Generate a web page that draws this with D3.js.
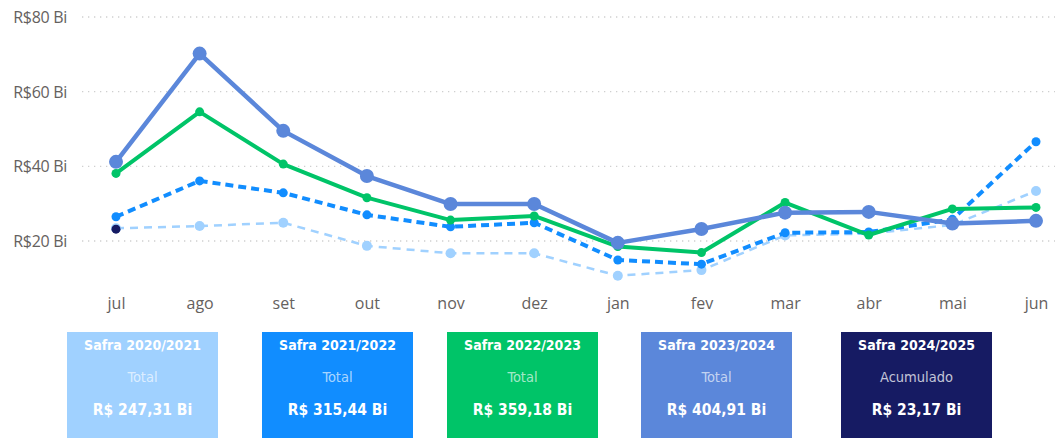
<!DOCTYPE html>
<html>

<head>
  <meta charset="utf-8">
  <title>Safras</title>
  <style>
    body,
    html {
      margin: 0;
      padding: 0;
      background: #fff;
    }

    #svg {
      display: block;
    }
  </style>
</head>

<body>

  <svg id="svg" width="1055" height="438"></svg>

  <script src="https://d3js.org/d3.v7.min.js"></script>
  <script>
    // meses da safra (jul -> jun)
    const months = ["jul", "ago", "set", "out", "nov", "dez", "jan", "fev", "mar", "abr", "mai", "jun"]
    const yTicks = [20, 40, 60, 80]

    const safra2021 = [23.4, 24.0, 24.9, 18.7, 16.7, 16.7, 10.7, 12.2, 21.5, 22.0, 24.3, 33.4]
    const safra2122 = [26.5, 36.1, 32.9, 27.0, 23.8, 24.9, 14.9, 13.8, 22.2, 22.4, 25.8, 46.6]
    const safra2223 = [38.1, 54.6, 40.6, 31.6, 25.6, 26.7, 18.5, 16.9, 30.3, 21.6, 28.6, 29.0]
    const safra2324 = [41.2, 70.2, 49.5, 37.4, 29.9, 29.9, 19.5, 23.2, 27.6, 27.8, 24.7, 25.4]
    const safra2425 = [23.17]

    const cardTitles = ["Safra 2020/2021", "Safra 2021/2022", "Safra 2022/2023", "Safra 2023/2024", "Safra 2024/2025"]
    const cardLabels = ["Total", "Total", "Total", "Total", "Acumulado"]
    const cardValues = ["R$ 247,31 Bi", "R$ 315,44 Bi", "R$ 359,18 Bi", "R$ 404,91 Bi", "R$ 23,17 Bi"]

    const width = 1055
    const height = 438

    const colors = {
      light: "#a0d1ff",
      bright: "#118dff",
      green: "#00c468",
      mid: "#5b87da",
      navy: "#161b63"
    }

    const xScale = d3.scalePoint()
      .domain(months)
      .range([116, 1036])

    const yScale = d3.scaleLinear()
      .domain([20, 80])
      .range([241, 17])

    const svg = d3.select("#svg")

    // grid
    const grid = svg.append("g")
    grid.selectAll("line")
      .data(yTicks)
      .enter()
      .append("line")
      .attr("x1", 82)
      .attr("x2", width)
      .attr("y1", d => yScale(d))
      .attr("y2", d => yScale(d))
      .attr("stroke", "#cfcfcf")
      .attr("stroke-width", 1.3)
      .attr("stroke-dasharray", "1.3,4.7")

    const leftAxis = d3.axisLeft(yScale)
      .tickValues(yTicks)
      .tickSize(0)
      .tickPadding(0)
      .tickFormat(d => `R$${d} Bi`)

    const yAxis = svg.append("g")
      .attr("transform", "translate(67, 0)")
      .call(leftAxis)
    yAxis.select(".domain").remove()
    yAxis.selectAll("text")
      .attr("fill", "#65615e")
      .attr("font-family", "'Open Sans', sans-serif")
      .attr("font-size", 16)
      .attr("letter-spacing", "-0.3")
      .attr("dy", "0.35em")

    const bottomAxis = d3.axisBottom(xScale)
      .tickSize(0)
      .tickPadding(0)

    const xAxis = svg.append("g")
      .attr("transform", "translate(0, 303)")
      .call(bottomAxis)
    xAxis.select(".domain").remove()
    xAxis.selectAll("text")
      .attr("fill", "#65615e")
      .attr("font-family", "'Open Sans', sans-serif")
      .attr("font-size", 16)
      .attr("dy", "0.35em")

    const lineGen = d3.line()
      .x((d, i) => xScale(months[i]))
      .y(d => yScale(d))

    const series = [
      { values: safra2021, color: colors.light, width: 2.5, dash: "8,6", r: 5 },
      { values: safra2122, color: colors.bright, width: 4, dash: "8,5", r: 4.5 },
      { values: safra2223, color: colors.green, width: 4, dash: null, r: 4.5 },
      { values: safra2324, color: colors.mid, width: 4.5, dash: null, r: 7 },
      { values: safra2425, color: colors.navy, width: 4, dash: null, r: 4.5 }
    ]

    series.forEach(s => {
      const g = svg.append("g")
      g.append("path")
        .attr("d", lineGen(s.values))
        .attr("fill", "none")
        .attr("stroke", s.color)
        .attr("stroke-width", s.width)
        .attr("stroke-dasharray", s.dash)
        .attr("stroke-linejoin", "round")

      g.selectAll("circle")
        .data(s.values)
        .enter()
        .append("circle")
        .attr("cx", (d, i) => xScale(months[i]))
        .attr("cy", d => yScale(d))
        .attr("r", s.r)
        .attr("fill", s.color)
    })

    // cartoes
    const cardX = [67, 262, 447, 641, 841]
    const cardColors = [colors.light, colors.bright, colors.green, colors.mid, colors.navy]
    const cardW = 151

    const cards = svg.append("g")
      .selectAll("g")
      .data(cardTitles)
      .enter()
      .append("g")
      .attr("transform", (d, i) => `translate(${cardX[i]}, 332)`)

    cards.append("rect")
      .attr("width", cardW)
      .attr("height", height - 332)
      .attr("fill", (d, i) => cardColors[i])

    cards.append("text")
      .attr("x", cardW / 2)
      .attr("y", 13)
      .attr("dy", "0.35em")
      .attr("text-anchor", "middle")
      .attr("fill", "#fff")
      .attr("font-family", "'DejaVu Sans Condensed', 'DejaVu Sans', sans-serif")
      .attr("font-weight", "bold")
      .attr("font-size", 14)
      .text(d => d)

    cards.append("text")
      .attr("x", cardW / 2)
      .attr("y", 45)
      .attr("dy", "0.35em")
      .attr("text-anchor", "middle")
      .attr("fill", "#fff")
      .attr("fill-opacity", (d, i) => i === 4 ? 0.75 : 0.65)
      .attr("font-family", "'DejaVu Sans Condensed', 'DejaVu Sans', sans-serif")
      .attr("font-size", 14.5)
      .text((d, i) => cardLabels[i])

    cards.append("text")
      .attr("x", cardW / 2)
      .attr("y", 78)
      .attr("dy", "0.35em")
      .attr("text-anchor", "middle")
      .attr("fill", "#fff")
      .attr("font-family", "'DejaVu Sans Condensed', 'DejaVu Sans', sans-serif")
      .attr("font-weight", "bold")
      .attr("font-size", 15.5)
      .text((d, i) => cardValues[i])
  </script>
</body>

</html>
